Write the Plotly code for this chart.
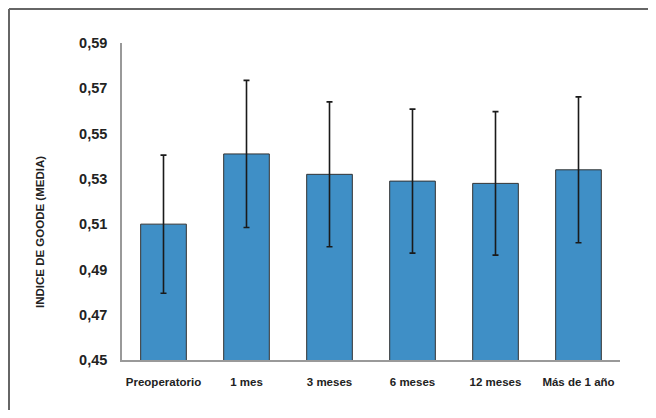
import plotly.graph_objects as go

categories = ["Preoperatorio", "1 mes", "3 meses", "6 meses", "12 meses", "Más de 1 año"]
means = [0.510, 0.541, 0.532, 0.529, 0.528, 0.534]
errors = [0.0305, 0.0325, 0.032, 0.0318, 0.0317, 0.0322]
y_ticks = [0.45, 0.47, 0.49, 0.51, 0.53, 0.55, 0.57, 0.59]
y_title = "INDICE DE GOODE (MEDIA)"

# page has 8px body margin; figure sized to fit 656x418 window exactly
W, H = 640, 402
L, R, T, B = 114, 28, 35, 50
pw, ph = W - L - R, H - T - B

def px_x(p):
    return (p - L) / pw

def px_y(p):
    return (H - B - p) / ph

fig = go.Figure(go.Bar(
    x=categories, y=means,
    marker=dict(color="#3f8fc6", line=dict(color="#333333", width=1)),
    error_y=dict(type="data", array=errors, visible=True, color="#1a1a1a", thickness=1.6, width=3),
))

fig.update_layout(
    width=W, height=H,
    margin=dict(l=L, r=R, t=T, b=B),
    plot_bgcolor="white", paper_bgcolor="white",
    separators=", ",
    bargap=0.45,
    showlegend=False,
    font=dict(family="Liberation Sans, Arial, sans-serif", color="#222222"),
    xaxis=dict(
        showline=True, linecolor="#999999", linewidth=1.5,
        showgrid=False, ticks="outside", ticklen=10, tickcolor="rgba(0,0,0,0)",
        tickfont=dict(size=11.5, family="Liberation Sans, Arial, sans-serif", weight="bold", color="#222222"),
    ),
    yaxis=dict(
        range=[0.45, 0.59], tickvals=y_ticks, tickformat=".2f",
        showline=True, linecolor="#999999", linewidth=1.5,
        showgrid=False, zeroline=False, ticks="outside", ticklen=10, tickcolor="rgba(0,0,0,0)",
        tickfont=dict(size=14.5, family="Liberation Sans, Arial, sans-serif", weight="bold", color="#222222"),
    ),
    shapes=[
        dict(type="line", xref="paper", yref="paper",
             x0=px_x(1), x1=px_x(W), y0=px_y(1), y1=px_y(1),
             line=dict(color="#666666", width=2), layer="below"),
        dict(type="line", xref="paper", yref="paper",
             x0=px_x(1), x1=px_x(1), y0=px_y(1), y1=px_y(H),
             line=dict(color="#666666", width=2), layer="below"),
    ],
    annotations=[dict(
        text=y_title, xref="paper", yref="paper",
        x=px_x(32), y=px_y(224), textangle=-90, showarrow=False,
        xanchor="center", yanchor="middle",
        font=dict(size=11.5, family="Liberation Sans, Arial, sans-serif", weight="bold", color="#222222"),
    )],
)

fig.write_html("out.html")
